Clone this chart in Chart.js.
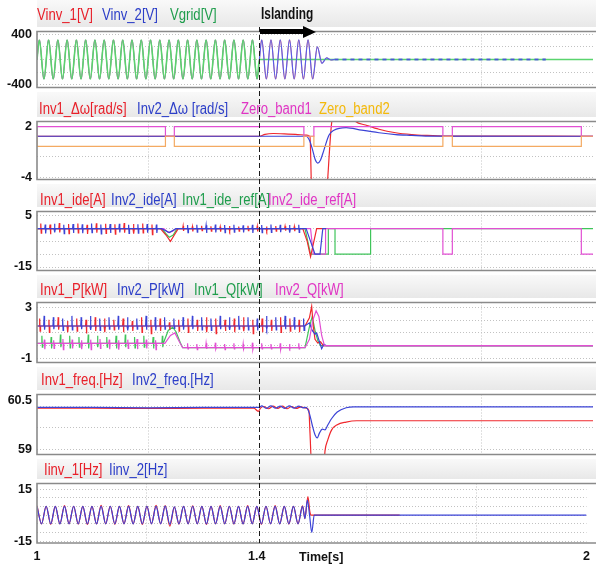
<!DOCTYPE html>
<html>
<head>
<meta charset="utf-8">
<script src="https://cdn.jsdelivr.net/npm/chart.js@4.4.0/dist/chart.umd.min.js"></script>
<style>
html, body { margin: 0; padding: 0; background: #fff; }
#wrap { position: relative; width: 596px; height: 566px; overflow: hidden; }
.strip { position: absolute; left: 37px; right: 0; background: linear-gradient(#f9f9f9, #e8e8e8); z-index: 0; }
canvas.panel { position: absolute; left: 0; z-index: 1; }
.lg { position: absolute; left: 0; right: 0; height: 16px; line-height: 16px; z-index: 2;
      font-family: 'Liberation Sans', Arial, sans-serif; font-size: 16px; }
.lg span { position: absolute; white-space: nowrap; transform: scaleX(0.82); transform-origin: 0 50%; }
#island-line { position: absolute; top: 27px; height: 516px; width: 1px; z-index: 3;
      background: repeating-linear-gradient(to bottom, #1a1a1a 0 5px, transparent 5px 8px); }
#island-txt { position: absolute; top: 5px; z-index: 3; font-weight: bold; color: #111; white-space: nowrap;
      font-family: 'Liberation Sans', Arial, sans-serif; font-size: 17px; line-height: 18px;
      transform: scaleX(0.7); transform-origin: 0 50%; }
#arrow-body { position: absolute; top: 29px; height: 5px; background: #000; z-index: 3; }
#arrow-head { position: absolute; top: 25.5px; width: 0; height: 0; z-index: 3;
      border-top: 6px solid transparent; border-bottom: 6px solid transparent; border-left: 13px solid #000; }
#time-lbl { position: absolute; top: 549px; z-index: 3; font: bold 12.5px 'Liberation Sans', sans-serif; color: #111; line-height: 16px; }
</style>
</head>
<body>
<div id="wrap">
  <div class="strip" style="top:0;height:27px"></div>
  <div class="strip" style="top:92px;height:25px"></div>
  <div class="strip" style="top:184px;height:23px"></div>
  <div class="strip" style="top:275px;height:23px"></div>
  <div class="strip" style="top:367px;height:23px"></div>
  <div class="strip" style="top:459px;height:20px"></div>

  <div class="lg" style="top:7px">
    <span style="left:37px;color:#e8202a">Vinv_1[V]</span>
    <span style="left:102px;color:#2c3ec8">Vinv_2[V]</span>
    <span style="left:170px;color:#1f9d4c">Vgrid[V]</span>
  </div>
  <div class="lg" style="top:101px">
    <span style="left:39px;color:#e8202a">Inv1_Δω[rad/s]</span>
    <span style="left:137px;color:#2c3ec8">Inv2_Δω [rad/s]</span>
    <span style="left:241px;color:#e034c4">Zero_band1</span>
    <span style="left:319px;color:#f3b90c">Zero_band2</span>
  </div>
  <div class="lg" style="top:192px">
    <span style="left:40px;color:#e8202a">Inv1_ide[A]</span>
    <span style="left:111px;color:#2c3ec8">Inv2_ide[A]</span>
    <span style="left:182px;color:#1f9d4c">Inv1_ide_ref[A]</span>
    <span style="left:268px;color:#e034c4">Inv2_ide_ref[A]</span>
  </div>
  <div class="lg" style="top:282px">
    <span style="left:40px;color:#e8202a">Inv1_P[kW]</span>
    <span style="left:117px;color:#2c3ec8">Inv2_P[kW]</span>
    <span style="left:194px;color:#1f9d4c">Inv1_Q[kW]</span>
    <span style="left:275px;color:#e034c4">Inv2_Q[kW]</span>
  </div>
  <div class="lg" style="top:372px">
    <span style="left:41px;color:#e8202a">Inv1_freq.[Hz]</span>
    <span style="left:132px;color:#2c3ec8">Inv2_freq.[Hz]</span>
  </div>
  <div class="lg" style="top:462px">
    <span style="left:44px;color:#e8202a">Iinv_1[Hz]</span>
    <span style="left:109px;color:#2c3ec8">Iinv_2[Hz]</span>
  </div>

  <div id="island-line"></div>
  <div id="island-txt">Islanding</div>
  <div id="arrow-body"></div>
  <div id="arrow-head"></div>
  <div id="time-lbl">Time[s]</div>
</div>

<script>
// time axis
const xGrid = [1, 1.2, 1.4, 1.6, 1.8, 2];
const xLabels = [1, 1.4, 2];
const islandT = 1.4;
const arrowEndT = 1.502;

// ---- panel 1 : voltages (extrema of each half cycle, 60 Hz)
const vPre = [
  311, -311, 311, -311, 311, -311, 311, -311, 311, -311, 311, -311,
  311, -311, 311, -311, 311, -311, 311, -311, 311, -311, 311, -311,
  311, -311, 311, -311, 311, -311, 311, -311, 311, -311, 311, -311,
  311, -311, 311, -311, 311, -311, 311, -311, 311, -311, 311, -311
];
const vInvPost = [311, -311, 311, -311, 311, -311, 311, -311, 311, -311, 311, -311, 200, -60, 25, -8];
const vDashT = [1.535, 1.915];
const vDash = [0, 0];

// ---- panel 2 : frequency deviation and zero bands
const bandOn = [[1.0, 1.231], [1.247, 1.480], [1.498, 1.730], [1.747, 1.979]];
const dwBase = 0.88;
const band1Hi = 2.0;
const band2Lo = -0.31;
const dw1T = [1.0, 1.4, 1.41, 1.425, 1.445, 1.465, 1.485, 1.491, 1.494, 1.50, 1.518, 1.522, 1.53, 1.539, 1.55, 1.573, 1.591, 1.615, 1.645, 1.674, 1.699, 1.735, 2.0];
const dw1 = [0.88, 0.88, 1.1, 1.2, 1.15, 1.1, 1.0, 0.8, -6, -9, -9, -5, 2.5, 4.5, 4.5, 2.6, 2.2, 1.7, 1.29, 1.08, 0.98, 0.9, 0.88];
const dw2T = [1.0, 1.4, 1.484, 1.49, 1.496, 1.50, 1.505, 1.51, 1.516, 1.525, 1.534, 1.556, 1.584, 1.615, 1.645, 1.674, 1.699, 2.0];
const dw2 = [0.88, 0.88, 0.88, 0.4, -0.8, -1.8, -2.27, -1.9, -0.75, 1.0, 1.59, 1.9, 1.59, 1.29, 1.08, 0.98, 0.9, 0.88];

// ---- panel 3 : d-axis currents
const ide1UpA = [2.0, 1.6, 2.2, 1.8, 2.0, 1.5, 2.1, 1.9, 1.7, 2.2, 1.8, 2.0, 1.6];
const ide1DnA = [1.8, 2.2, 1.5, 2.0, 1.7, 2.1, 1.6, 1.9, 2.2, 1.6, 2.0, 1.7, 2.4];
const ide1DipT = [1.222, 1.232, 1.240, 1.247, 1.254];
const ide1Dip = [0, -2.5, -5, -2.5, 0];
const ide1UpB = [1.0, 0.8, 1.1, 0.9, 0.7, 1.0, 0.8, 1.1, 0.9, 0.8, 1.0, 0.9, 0.8];
const ide1DnB = [0.9, 1.1, 0.8, 1.0, 1.2, 0.9, 1.0, 0.8, 1.1, 0.9, 1.0, 0.8, 1.0];
const ide1TrT = [1.478, 1.486, 1.492, 1.498, 1.503, 1.52];
const ide1Tr = [0, -5, -11, -5, 0, 0];
const ide2UpA = [1.6, 1.9, 1.5, 1.8, 1.7, 2.0, 1.6, 1.8, 1.9, 1.5, 1.7, 1.8, 1.6];
const ide2DnA = [1.9, 1.5, 2.0, 1.7, 1.8, 1.6, 2.1, 1.7, 1.5, 1.9, 1.8, 1.6, 1.7];
const ide2DipT = [1.224, 1.238, 1.25];
const ide2Dip = [0, -1.5, 0];
const ide2UpB = [1.4, 1.5, 1.3, 1.6, 1.4, 1.5, 1.3, 1.5, 1.4, 1.6, 1.5, 1.4, 1.5];
const ide2DnB = [1.6, 1.4, 1.7, 1.5, 1.6, 1.4, 1.5, 1.7, 1.6, 1.5, 1.4, 1.6, 1.5];
const ide2TrT = [1.484, 1.492, 1.50, 1.509, 1.514, 1.52];
const ide2Tr = [0, -5, -10, -10, 0, 0];
const ref1T = [1.0, 1.224, 1.232, 1.238, 1.245, 1.252, 1.482, 1.488, 1.492, 1.524, 1.524, 1.536, 1.536, 1.6, 1.6, 2.0];
const ref1 = [0, 0, -2, -3.4, -2.5, 0, 0, -6, -10, -10, 0, 0, -10, -10, 0, 0];
const ref2T = [1.0, 1.228, 1.236, 1.244, 1.25, 1.492, 1.497, 1.519, 1.519, 1.73, 1.73, 1.747, 1.747, 1.979, 1.979, 2.0];
const ref2 = [0, 0, -1.5, -1, 0, 0, -10, -10, 0, 0, -10, -10, 0, 0, -10, -10];

// ---- panel 4 : active / reactive power
const pBase = 1.55;
const p1Up = [0.6, 0.5, 0.7, 0.4, 0.6, 0.5, 0.7, 0.6, 0.5, 0.6, 0.4, 0.7, 0.5, 0.6, 0.3, 0.5, 0.6, 0.5, 0.7, 0.6, 0.5, 0.6, 0.7, 0.5, 0.6, 0.5, 0.7, 0.6, 0.5];
const p1Dn = [0.4, 0.5, 0.3, 0.5, 0.4, 0.6, 0.4, 0.5, 0.3, 0.5, 0.4, 0.5, 0.6, 0.4, 0.3, 0.4, 0.5, 0.4, 0.5, 0.6, 0.4, 0.5, 0.4, 0.6, 0.5, 0.4, 0.5, 0.4, 0.5];
const p1TrT = [1.482, 1.49, 1.494, 1.497, 1.50, 1.505, 1.51, 1.515, 2.0];
const p1Tr = [1.55, 2.2, 3.1, 1.5, 0.5, 0.2, 0.3, 0.0, 0.0];
const p2Up = [0.8, 0.7, 0.6, 0.8, 0.7, 0.8, 0.6, 0.7, 0.8, 0.7, 0.6, 0.8, 0.7, 0.7, 0.6, 0.7, 0.8, 0.7, 0.6, 0.8, 0.7, 0.8, 0.7, 0.6, 0.8, 0.7, 0.8, 0.7, 0.6];
const p2Dn = [0.3, 0.25, 0.35, 0.3, 0.25, 0.3, 0.35, 0.25, 0.3, 0.35, 0.25, 0.3, 0.35, 0.25, 0.2, 0.3, 0.25, 0.3, 0.35, 0.25, 0.3, 0.25, 0.3, 0.35, 0.25, 0.3, 0.25, 0.3, 0.35];
const p2TrT = [1.482, 1.49, 1.495, 1.50, 1.503, 1.508, 1.512, 1.516, 1.52, 2.0];
const p2Tr = [1.55, 1.8, 1.2, 0.9, 1.0, 0.3, -0.25, 0.1, 0.0, 0.0];
const qPre = 0.17;
const qPost = -0.17;
const q1Up = [0.6, 0.5, 0.7, 0.6, 0.5, 0.7, 0.6, 0.5, 0.6, 0.7, 0.5, 0.6, 0.5, 0.6];
const q1Dn = [0.3, 0.4, 0.3, 0.35, 0.3, 0.4, 0.3, 0.3, 0.4, 0.3, 0.35, 0.3, 0.4, 0.3];
const q1HumpT = [1.228, 1.236, 1.244, 1.25, 1.258, 1.262];
const q1Hump = [0.17, 1.2, 1.45, 1.1, 0.2, -0.17];
const q1TrT = [1.482, 1.49, 1.495, 1.50, 1.505, 1.51, 2.0];
const q1Tr = [-0.17, 1.5, 2.3, 1.2, 0.4, 0.0, 0.0];
const q2UpA = [0.3, 0.25, 0.35, 0.3, 0.25, 0.3, 0.35, 0.3, 0.25, 0.3, 0.35, 0.3, 0.25];
const q2DnA = [0.45, 0.4, 0.5, 0.4, 0.45, 0.5, 0.4, 0.45, 0.5, 0.4, 0.45, 0.4, 0.5];
const q2HumpT = [1.23, 1.24, 1.248, 1.256, 1.262];
const q2Hump = [0.17, 0.8, 1.0, 0.3, -0.17];
const q2UpB = [0.35, 0.3, 0.35, 0.4, 0.3, 0.35, 0.3, 0.4, 0.35, 0.3, 0.35, 0.3, 0.35];
const q2DnB = [0.1, 0.15, 0.1, 0.1, 0.15, 0.1, 0.1, 0.15, 0.1, 0.1, 0.15, 0.1, 0.1];
const q2TrT = [1.482, 1.49, 1.496, 1.502, 1.507, 1.512, 1.517, 2.0];
const q2Tr = [-0.17, 0.5, 2.0, 2.75, 2.3, 0.8, 0.0, 0.0];

// ---- panel 5 : inverter frequency
const f1PreT = [1.0, 1.1, 1.2, 1.3, 1.39, 1.398, 1.402];
const f1Pre = [60.27, 60.27, 60.26, 60.27, 60.27, 60.17, 60.27];
const f1Rip = [60.32, 60.25, 60.33, 60.26, 60.33, 60.25, 60.32, 60.26, 60.31];
const f1TrT = [1.484, 1.489, 1.491, 1.494, 1.516, 1.518, 1.523, 1.53, 1.54, 1.556, 1.575, 2.0];
const f1Tr = [60.27, 60.2, 59.5, 58.5, 58.5, 58.95, 59.29, 59.6, 59.76, 59.84, 59.88, 59.88];
const f2PreT = [1.0, 1.1, 1.2, 1.3, 1.4];
const f2Pre = [60.29, 60.29, 60.28, 60.29, 60.29];
const f2Rip = [60.34, 60.26, 60.34, 60.27, 60.33, 60.26, 60.34, 60.27, 60.33, 60.28];
const f2TrT = [1.484, 1.49, 1.495, 1.50, 1.504, 1.508, 1.513, 1.518, 1.523, 1.53, 1.54, 1.556, 1.57, 2.0];
const f2Tr = [60.29, 60.1, 59.75, 59.45, 59.35, 59.5, 59.62, 59.6, 59.75, 59.95, 60.15, 60.28, 60.31, 60.31];

// ---- panel 6 : inverter currents (extrema of each half cycle)
const i1Pk = [
  5.4, -5, 5.1, -5.3, 5, -5.1, 5.5, -5, 5.1, -5.2,
  5, -5.4, 5, -5.1, 5.6, -5, 5.1, -5.3, 5, -5,
  5.5, -5.1, 5, -5.4, 5.1, -5, 5.6, -5, 5.4, -6.4,
  4.6, -5.2, 5, -5, 5.3, -5, 5, -5.4, 5, -5,
  5.4, -5, 5.1, -5.2, 5, -5.1, 5.4, -5, 5, -5.3,
  5.1, -5, 5.5, -5.1, 5, -5.2, 5, -5, 5.3
];
const i2Pk = [
  5, -5, 5.1, -5, 5, -5.1, 5, -5, 5.1, -5,
  5, -5, 5, -5.1, 5, -5, 5.1, -5, 5, -5,
  5, -5.1, 5, -5, 5.1, -5, 5, -5, 5.2, -5.3,
  4.8, -5, 5, -5, 5.1, -5, 5, -5.1, 5, -5,
  5, -5, 5.1, -5, 5, -5.1, 5, -5, 5, -5,
  5.1, -5, 5, -5.1, 5, -5, 5, -5, 5
];
const i1TrT = [1.4875, 1.493, 1.4965, 1.499, 1.66];
const i1Tr = [-2, 10.7, 2, 0, 0];
const i2TrT = [1.4875, 1.492, 1.496, 1.50, 1.5045, 2.0];
const i2Tr = [-2, 8.6, 0, -10, 0, 0];

const RED = '#f0282d', BLUE = '#3b43d6', GREEN = '#3fc45a', MAG = '#e24fd3', ORG = '#f4aa62';

function pts(T, V) {
  return T.map((x, i) => ({ x, y: V[i] }));
}
function wave(t0, dt, ys) {
  return ys.map((y, i) => ({ x: t0 + i * dt, y }));
}
function spikes(t0, period, ups, downs, base) {
  const out = [];
  ups.forEach((u, i) => {
    const t = t0 + i * period;
    out.push({ x: t, y: base }, { x: t + 0.0008, y: base + u },
             { x: t + 0.0016, y: base - downs[i] }, { x: t + 0.0024, y: base });
  });
  return out;
}
function pulses(intervals, on, off) {
  const out = [{ x: 1, y: off }];
  intervals.forEach(([a, b]) => {
    out.push({ x: a, y: off }, { x: a, y: on }, { x: b, y: on }, { x: b, y: off });
  });
  out.push({ x: 2, y: off });
  return out;
}
function line(data, color, extra) {
  return Object.assign({ data, borderColor: color, borderWidth: 1.2, pointRadius: 0, fill: false }, extra || {});
}
const smooth = { cubicInterpolationMode: 'monotone', tension: 0.4 };
const hidden = Object.assign({ borderWidth: 0.6 }, smooth);

const tPk = 1 + 1 / 240;
const dtPk = 1 / 120;
const tPost = tPk + vPre.length * dtPk;
const cyc = 1 / 60;

const panels = [
  { top: 27, bottom: 92, yMin: -445, yMax: 445, yGrid: [-400, -200, 0, 200, 400], yLabels: [400, -400],
    datasets: [
      line([{ x: islandT, y: 0 }, ...wave(tPost, dtPk, vInvPost), { x: 1.535, y: 0 }], '#5a5ee6', smooth),
      line(pts(vDashT, vDash), '#4a56d8', { borderDash: [4, 4], borderWidth: 1.8 }),
      line([{ x: 1, y: 0 }, ...wave(tPk, dtPk, vPre), { x: islandT, y: 0 }, { x: 2, y: 0 }], '#5ad46e',
           Object.assign({ borderWidth: 1.6 }, smooth)),
      line([{ x: 1, y: 0 }, ...wave(tPk, dtPk, vPre), { x: islandT, y: 0 }], '#5a5ee6', hidden),
      line([{ x: 1, y: 0 }, ...wave(tPk, dtPk, vPre.concat(vInvPost)), { x: 1.535, y: 0 }, ...pts(vDashT, vDash)], RED, hidden)
    ] },
  { top: 117, bottom: 184, yMin: -4.2, yMax: 2.61, yGrid: [2, -1.5, -4], yLabels: [2, -4],
    datasets: [
      line(pulses(bandOn, band2Lo, dwBase), ORG),
      line(pulses(bandOn, band1Hi, dwBase), MAG),
      line(pts(dw2T, dw2), BLUE, smooth),
      line(pts(dw1T, dw1), RED, smooth)
    ] },
  { top: 207, bottom: 275, yMin: -16.36, yMax: 6.69, yGrid: [5, 0, -5, -10, -15], yLabels: [5, -15],
    datasets: [
      line([{ x: 1, y: 0 }, ...spikes(1.014, cyc, ide2UpA, ide2DnA, 0), ...pts(ide2DipT, ide2Dip),
            ...spikes(1.27, cyc, ide2UpB, ide2DnB, 0), ...pts(ide2TrT, ide2Tr)], BLUE),
      line([{ x: 1, y: 0 }, ...spikes(1.006, cyc, ide1UpA, ide1DnA, 0), ...pts(ide1DipT, ide1Dip),
            ...spikes(1.262, cyc, ide1UpB, ide1DnB, 0), ...pts(ide1TrT, ide1Tr)], RED),
      line(pts(ref2T, ref2), MAG),
      line(pts(ref1T, ref1), GREEN)
    ] },
  { top: 298, bottom: 367, yMin: -1.34, yMax: 3.41, yGrid: [3, 2, 1, 0, -1], yLabels: [3, -1],
    datasets: [
      line([{ x: 1, y: qPre }, ...spikes(1.0125, cyc, q2UpA, q2DnA, qPre), ...pts(q2HumpT, q2Hump),
            ...spikes(1.27, cyc, q2UpB, q2DnB, qPost), ...pts(q2TrT, q2Tr)], MAG),
      line([{ x: 1, y: pBase }, ...spikes(1.012, cyc, p2Up, p2Dn, pBase), ...pts(p2TrT, p2Tr)], BLUE),
      line([{ x: 1, y: pBase }, ...spikes(1.004, cyc, p1Up, p1Dn, pBase), ...pts(p1TrT, p1Tr)], RED),
      line([{ x: 1, y: qPre }, ...spikes(1.008, cyc, q1Up, q1Dn, qPre), ...pts(q1HumpT, q1Hump),
            ...pts(q1TrT, q1Tr)], GREEN)
    ] },
  { top: 390, bottom: 459, yMin: 58.84, yMax: 60.69, yGrid: [60.31, 59.67, 59], yLabels: [60.5, 59],
    datasets: [
      line([...pts(f2PreT, f2Pre), ...wave(1.404, dtPk, f2Rip), ...pts(f2TrT, f2Tr)], BLUE, smooth),
      line([...pts(f1PreT, f1Pre), ...wave(1.408, dtPk, f1Rip), ...pts(f1TrT, f1Tr)], RED, smooth)
    ] },
  { top: 479, bottom: 543, yMin: -16.07, yMax: 18.2, yGrid: [15, 10, 5, 0, -5, -10, -15], yLabels: [15, -15], showX: true,
    datasets: [
      line([...wave(1, dtPk, i2Pk), ...pts(i2TrT, i2Tr)], BLUE, smooth),
      line([...wave(1, dtPk, i1Pk), ...pts(i1TrT, i1Tr)], RED, smooth)
    ] }
];

const framePlugin = {
  id: 'frame',
  beforeDraw(chart) {
    const a = chart.chartArea, c = chart.ctx;
    c.save();
    c.fillStyle = '#fff';
    c.fillRect(a.left, a.top, chart.width - a.left, a.bottom - a.top);
    c.restore();
  },
  afterDraw(chart) {
    const a = chart.chartArea, c = chart.ctx;
    c.save();
    c.strokeStyle = '#8a8a8a';
    c.lineWidth = 1.6;
    c.beginPath();
    c.moveTo(chart.width, a.top); c.lineTo(a.left, a.top);
    c.lineTo(a.left, a.bottom); c.lineTo(chart.width, a.bottom);
    c.stroke();
    c.restore();
  }
};

const tickFont = { family: "'Liberation Sans', Arial, sans-serif", size: 12.5, weight: 'bold' };
const wrap = document.getElementById('wrap');

function buildPanel(p) {
  const padTop = 8, padBottom = p.showX ? 0 : 8, axisH = p.showX ? 23 : 0;
  const canvas = document.createElement('canvas');
  canvas.className = 'panel';
  canvas.width = 596;
  canvas.height = p.bottom - p.top + padTop + padBottom + axisH;
  canvas.style.top = (p.top - padTop) + 'px';
  wrap.appendChild(canvas);
  const yTicks = [...new Set(p.yGrid.concat(p.yLabels))];

  return new Chart(canvas, {
    type: 'line',
    data: { datasets: p.datasets },
    options: {
      responsive: false,
      animation: false,
      events: [],
      layout: { padding: { top: padTop, bottom: padBottom, left: 0, right: 3 } },
      plugins: { legend: { display: false }, tooltip: { enabled: false } },
      scales: {
        x: {
          type: 'linear', min: 1, max: 2,
          afterBuildTicks: s => { s.ticks = xGrid.map(v => ({ value: v })); },
          afterFit: s => { s.height = axisH; },
          grid: { drawTicks: false, lineWidth: 1,
                  color: ctx => (ctx.tick && [1.2, 1.6, 1.8].includes(ctx.tick.value)) ? '#c2c2c2' : 'transparent' },
          border: { display: false, dash: [1, 2] },
          ticks: { display: !!p.showX, padding: 6, autoSkip: false, maxRotation: 0, color: '#111', font: tickFont,
                   callback: v => xLabels.includes(v) ? String(v) : '' }
        },
        y: {
          type: 'linear', min: p.yMin, max: p.yMax,
          afterBuildTicks: s => { s.ticks = yTicks.map(v => ({ value: v })); },
          afterFit: s => { s.width = 37; },
          grid: { drawTicks: false, lineWidth: 1,
                  color: ctx => (ctx.tick && p.yGrid.includes(ctx.tick.value)) ? '#c2c2c2' : 'transparent' },
          border: { display: false, dash: [1, 2] },
          ticks: { padding: 5, autoSkip: false, color: '#111', font: tickFont,
                   callback: v => p.yLabels.includes(v) ? String(v) : '' }
        }
      }
    },
    plugins: [framePlugin]
  });
}

const charts = panels.map(buildPanel);

// islanding marker, placed from the time scale
const xs = charts[0].scales.x;
const x14 = xs.getPixelForValue(islandT);
const xEnd = xs.getPixelForValue(arrowEndT);
document.getElementById('island-line').style.left = Math.round(x14) + 'px';
document.getElementById('island-txt').style.left = (x14 + 2) + 'px';
const body = document.getElementById('arrow-body');
body.style.left = (x14 + 1) + 'px';
body.style.width = (xEnd - x14 - 12) + 'px';
document.getElementById('arrow-head').style.left = (xEnd - 13) + 'px';
const tl = document.getElementById('time-lbl');
tl.style.left = (xs.getPixelForValue(1.511) - tl.offsetWidth / 2) + 'px';
</script>
</body>
</html>
